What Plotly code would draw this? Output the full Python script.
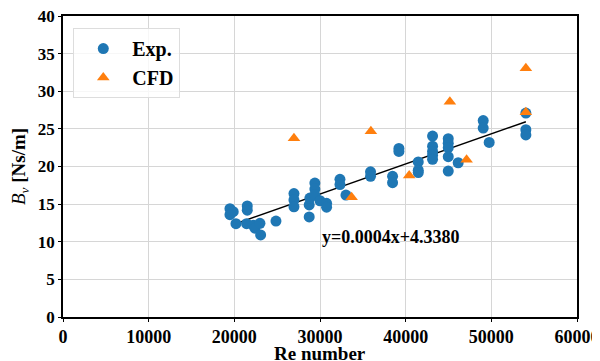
import plotly.graph_objects as go

# Experimental data (Re number, B_v)
exp_re = [19490, 19870, 19490, 20190, 21510, 21510, 21430, 22210, 22400, 22990, 23070,
          24860, 26960, 26960, 26960, 28740, 28740, 28820, 29400, 29400, 29400, 30000,
          30770, 30770, 32330, 32330, 33030, 35900, 35900, 38470, 38470, 39210, 39210,
          41470, 41470, 41470, 43140, 43140, 43140, 43140, 43140, 44970, 44970, 44970,
          44970, 44970, 46130, 49050, 49050, 49750, 54030, 54030, 54030]
exp_bv = [14.4, 14.0, 13.6, 12.4, 14.75, 14.2, 12.4, 12.2, 11.8, 12.45, 10.9,
          12.75, 16.4, 15.55, 14.65, 14.9, 13.3, 15.8, 17.8, 17.0, 16.2, 15.45,
          15.1, 14.6, 18.3, 17.6, 16.2, 19.3, 18.7, 18.7, 17.85, 22.4, 22.0,
          20.6, 19.5, 19.2, 24.05, 22.7, 22.0, 21.5, 20.95, 23.7, 23.1, 22.5,
          21.3, 19.4, 20.5, 26.1, 25.1, 23.2, 27.1, 24.9, 24.2]

# CFD data
cfd_re = [26960, 33690, 35940, 40410, 45160, 47110, 54030, 54030]
cfd_bv = [23.75, 15.9, 24.7, 18.8, 28.6, 20.9, 33.05, 27.2]

# Linear fit y = slope*x + intercept
fit_slope = 0.0004
fit_intercept = 4.3380
fit_re = [20650, 54030]
fit_bv = [fit_slope * v + fit_intercept for v in fit_re]

x_ticks = [0, 10000, 20000, 30000, 40000, 50000, 60000]
y_ticks = [0, 5, 10, 15, 20, 25, 30, 35, 40]

FONT = "Liberation Serif, Times New Roman, serif"

fig = go.Figure()
fig.add_trace(go.Scatter(x=fit_re, y=fit_bv, mode="lines",
                         line=dict(color="black", width=1.5), showlegend=False, hoverinfo="skip"))
fig.add_trace(go.Scatter(x=exp_re, y=exp_bv, mode="markers", name="<b>Exp.</b>",
                         marker=dict(color="#1f77b4", size=11, symbol="circle")))
fig.add_trace(go.Scatter(x=cfd_re, y=cfd_bv, mode="markers", name="<b>CFD</b>",
                         marker=dict(color="#ff7f0e", size=11, symbol="triangle-up")))

fig.add_annotation(x=30000, y=10.6, xref="x", yref="y", xanchor="left", yanchor="middle",
                   text="<b>y=0.0004x+4.3380</b>", showarrow=False,
                   font=dict(family=FONT, size=18, color="black"))

# x-axis title placed as annotation for exact position
fig.add_annotation(x=0.5, y=-0.122, xref="paper", yref="paper", xanchor="center", yanchor="middle",
                   text="<b>Re number</b>", showarrow=False,
                   font=dict(family=FONT, size=19, color="black"))

axis_common = dict(showgrid=True, gridcolor="#d6d6d6", gridwidth=1,
                   showline=True, linecolor="black", linewidth=1.5, mirror=True,
                   ticks="outside", ticklen=3, tickcolor="black", zeroline=False,
                   automargin=False, ticklabeloverflow="allow")

fig.update_xaxes(range=[0, 60000], tickvals=x_ticks, ticktext=["<b>%d</b>" % v for v in x_ticks],
                 tickfont=dict(family=FONT, size=18, color="black"),
                 **axis_common)
fig.update_yaxes(range=[0, 40], tickvals=y_ticks, ticktext=["<b>%d</b>" % v for v in y_ticks],
                 tickfont=dict(family=FONT, size=17, color="black"),
                 title=dict(text="<i>B</i><sub><i>v</i></sub> <b>[Ns/m]</b>",
                            font=dict(family=FONT, size=19, color="black"), standoff=16),
                 **axis_common)

# page body adds an 8px offset; figure sized so plot area lands at 63..577 x 16..317
fig.update_layout(width=592, height=353, margin=dict(l=55, r=23, t=8, b=44),
                  plot_bgcolor="white", paper_bgcolor="white",
                  font=dict(family=FONT, color="black"),
                  legend=dict(x=0.02, y=0.96, xanchor="left", yanchor="top",
                              bgcolor="rgba(255,255,255,0.8)", bordercolor="#dddddd", borderwidth=1,
                              font=dict(family=FONT, size=20, color="black"),
                              itemwidth=48, tracegroupgap=0))

fig.write_html("out.html")
